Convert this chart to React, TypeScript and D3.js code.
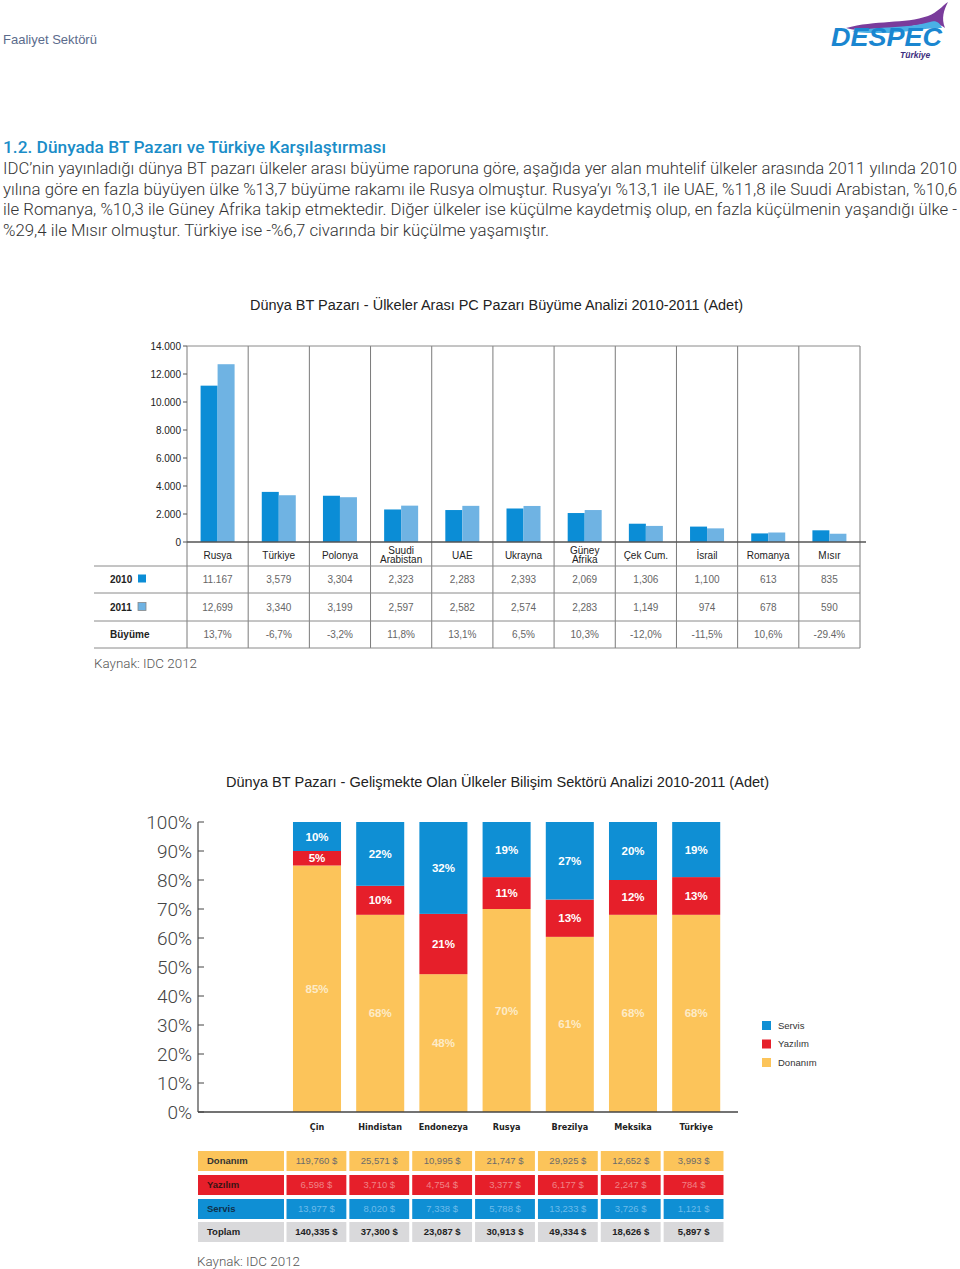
import React from "react";
import * as d3 from "d3";

// ---------- Chart 1 data ----------
const countries1 = ["Rusya", "Türkiye", "Polonya", "Suudi Arabistan", "UAE", "Ukrayna", "Güney Afrika", "Çek Cum.", "İsrail", "Romanya", "Mısır"];
const values2010 = [11167, 3579, 3304, 2323, 2283, 2393, 2069, 1306, 1100, 613, 835];
const values2011 = [12699, 3340, 3199, 2597, 2582, 2574, 2283, 1149, 974, 678, 590];
const labels2010 = ["11.167", "3,579", "3,304", "2,323", "2,283", "2,393", "2,069", "1,306", "1,100", "613", "835"];
const labels2011 = ["12,699", "3,340", "3,199", "2,597", "2,582", "2,574", "2,283", "1,149", "974", "678", "590"];
const growthLabels = ["13,7%", "-6,7%", "-3,2%", "11,8%", "13,1%", "6,5%", "10,3%", "-12,0%", "-11,5%", "10,6%", "-29.4%"];
const yTicks1 = [0, 2000, 4000, 6000, 8000, 10000, 12000, 14000];

// ---------- Chart 2 data ----------
const countries2 = ["Çin", "Hindistan", "Endonezya", "Rusya", "Brezilya", "Meksika", "Türkiye"];
const donanimPct = [85, 68, 48, 70, 61, 68, 68];
const yazilimPct = [5, 10, 21, 11, 13, 12, 13];
const servisPct = [10, 22, 32, 19, 27, 20, 19];
const donanimUsd = [119760, 25571, 10995, 21747, 29925, 12652, 3993];
const yazilimUsd = [6598, 3710, 4754, 3377, 6177, 2247, 784];
const servisUsd = [13977, 8020, 7338, 5788, 13233, 3726, 1121];
const toplamUsd = [140335, 37300, 23087, 30913, 49334, 18626, 5897];
const yTicks2 = [0, 10, 20, 30, 40, 50, 60, 70, 80, 90, 100];

const C2010 = "#0b8dd6";
const C2011 = "#6fb3e3";
const CYEL = "#fcc45a";
const CRED = "#e61f2a";
const CBLUE = "#0f8fd4";
const FONT = "'Liberation Sans', Arial, Helvetica, sans-serif";
const LIGHT = "Roboto, 'Liberation Sans', Arial, sans-serif";

const bodyLines = [
  "IDC’nin yayınladığı dünya BT pazarı ülkeler arası büyüme raporuna göre, aşağıda yer alan muhtelif ülkeler arasında 2011 yılında 2010",
  "yılına göre en fazla büyüyen ülke %13,7 büyüme rakamı ile Rusya olmuştur. Rusya’yı %13,1 ile UAE, %11,8 ile Suudi Arabistan, %10,6",
  "ile Romanya, %10,3 ile Güney Afrika takip etmektedir. Diğer ülkeler ise küçülme kaydetmiş olup, en fazla küçülmenin yaşandığı ülke -",
  "%29,4 ile Mısır olmuştur. Türkiye ise -%6,7 civarında bir küçülme yaşamıştır.",
];
const bodyWidths = [954, 954, 954, 546];

export default function App() {
  // Chart 1 scales
  const x1 = d3.scaleBand<string>().domain(countries1).range([187, 860]);
  const bw1 = x1.bandwidth();
  const inner = d3.scaleBand<string>().domain(["2010", "2011"]).range([0, 34]);
  const y1 = d3.scaleLinear().domain([0, 14000]).range([542, 346]);
  const trLocale = d3.formatLocale({ decimal: ",", thousands: ".", grouping: [3], currency: ["", ""] });
  const fmtTick = trLocale.format(",");
  const splitLabel = (c: string) =>
    c === "Suudi Arabistan" ? ["Suudi", "Arabistan"] : c === "Güney Afrika" ? ["Güney", "Afrika"] : [c];
  const boundaries1 = [...countries1.map((c) => x1(c)!), 860];
  const tableRows1 = [
    { label: "2010", y: 579, vals: labels2010, sq: C2010 },
    { label: "2011", y: 607, vals: labels2011, sq: C2011 },
    { label: "Büyüme", y: 634, vals: growthLabels, sq: null as string | null },
  ];

  // Chart 2 scales
  const x2 = d3.scaleBand<string>().domain(countries2).range([285.4, 727.8]).paddingInner(0.24).paddingOuter(0.12);
  const y2 = d3.scaleLinear().domain([0, 1]).range([1112, 822]);
  const y2t = d3.scaleLinear().domain([0, 100]).range([1112, 822]);
  const rows2 = countries2.map((c, i) => ({ c, Donanım: donanimPct[i], Yazılım: yazilimPct[i], Servis: servisPct[i] }));
  const keys = ["Donanım", "Yazılım", "Servis"];
  const colors2: Record<string, string> = { Donanım: CYEL, Yazılım: CRED, Servis: CBLUE };
  const labelColors2: Record<string, string> = { Donanım: "#fdebc8", Yazılım: "#ffffff", Servis: "#ffffff" };
  const stack = d3.stack<any>().keys(keys).offset(d3.stackOffsetExpand);
  const series = stack(rows2);

  const xCells = d3.scaleBand<string>().domain(countries2).range([285, 725]).paddingInner(0.048).paddingOuter(0.024);
  const fmtUsd = (v: number) => d3.format(",")(v) + " $";
  const table2 = [
    { label: "Donanım", vals: donanimUsd, bg: CYEL, lc: "#333", vc: "#6b6b6b", bold: false, y: 1151 },
    { label: "Yazılım", vals: yazilimUsd, bg: CRED, lc: "#3a1414", vc: "#f08387", bold: false, y: 1175 },
    { label: "Servis", vals: servisUsd, bg: CBLUE, lc: "#10304a", vc: "#6ebbea", bold: false, y: 1199 },
    { label: "Toplam", vals: toplamUsd, bg: "#d9d9db", lc: "#222", vc: "#222", bold: true, y: 1222 },
  ];

  return (
    <div style={{ position: "absolute", left: 0, top: 0 }}>
      <svg width={960} height={1269} style={{ display: "block", background: "#fff" }} fontFamily={FONT}>
        {/* Header */}
        <text x={3} y={44} fontSize={13} fill="#5b6b8c">Faaliyet Sektörü</text>
        <g>
          <path d="M846,28 C875,20 905,24 928,16 C938,12 942,6 948,2 C944,10 941,18 945,28 C936,20 920,25 898,28 C878,31 860,32 846,28 Z" fill="#7a3c9c" />
          <path d="M852,31 C880,26 905,29 930,22 C936,20 940,23 942,28 C930,27 905,33 880,33 C868,33 858,33 852,31 Z" fill="#4ab0e6" />
          <text x={831} y={46} fontSize={25} fontWeight="bold" fontStyle="italic" fill="#1a86d0" textLength={111} lengthAdjust="spacingAndGlyphs">DESPEC</text>
          <text x={900} y={57.5} fontSize={8.5} fontWeight="bold" fontStyle="italic" fill="#3b2e7e">Türkiye</text>
        </g>

        {/* Section heading & text */}
        <text x={3} y={153} fontSize={17} fontWeight={500} fontFamily={LIGHT} fill="#1b8dc8" textLength={383} lengthAdjust="spacingAndGlyphs">1.2. Dünyada BT Pazarı ve Türkiye Karşılaştırması</text>
        {bodyLines.map((l, i) => (
          <text key={i} x={3} y={174 + i * 20.7} fontSize={16} fontWeight={300} fontFamily={LIGHT} fill="#333" textLength={bodyWidths[i]} lengthAdjust="spacingAndGlyphs">{l}</text>
        ))}

        {/* Chart 1 */}
        <text x={250} y={310} fontSize={14} fill="#222" textLength={493} lengthAdjust="spacingAndGlyphs">Dünya BT Pazarı - Ülkeler Arası PC Pazarı Büyüme Analizi 2010-2011 (Adet)</text>
        {boundaries1.map((bx, i) => (
          <line key={i} x1={bx} x2={bx} y1={346} y2={648} stroke="#7a7a7a" strokeWidth={1} />
        ))}
        <line x1={187} x2={860} y1={346} y2={346} stroke="#8a8a8a" strokeWidth={1} />
        {countries1.map((c, i) => {
          const bx = x1(c)! + (bw1 - 34) / 2;
          return (
            <g key={c}>
              <rect x={bx + inner("2010")!} y={y1(values2010[i])} width={inner.bandwidth()} height={542 - y1(values2010[i])} fill={C2010} />
              <rect x={bx + inner("2011")!} y={y1(values2011[i])} width={inner.bandwidth()} height={542 - y1(values2011[i])} fill={C2011} />
            </g>
          );
        })}
        <line x1={187} x2={866} y1={542} y2={542} stroke="#555" strokeWidth={1.5} />
        {yTicks1.map((t) => (
          <g key={t}>
            <line x1={183} x2={187} y1={y1(t)} y2={y1(t)} stroke="#555" />
            <text x={181} y={y1(t)} dy="0.35em" fontSize={10} textAnchor="end" fill="#222">{fmtTick(t)}</text>
          </g>
        ))}
        {countries1.map((c) => {
          const lines = splitLabel(c);
          const cx = x1(c)! + bw1 / 2;
          return (
            <text key={c} x={cx} fontSize={10} textAnchor="middle" fill="#222">
              {lines.map((ln, j) => (
                <tspan key={j} x={cx} y={lines.length === 1 ? 558.5 : 553.5 + j * 9.3}>{ln}</tspan>
              ))}
            </text>
          );
        })}
        {[566, 593, 621, 648].map((ly) => (
          <line key={ly} x1={94} x2={860} y1={ly} y2={ly} stroke="#8a8a8a" strokeWidth={1} />
        ))}
        {tableRows1.map((r) => (
          <g key={r.label}>
            <text x={110} y={r.y} dy="0.35em" fontSize={10} fontWeight="bold" fill="#222">{r.label}</text>
            {r.sq && <rect x={138} y={r.y - 4.5} width={8} height={8} fill={r.sq} stroke={r.label === "2011" ? "#888" : "none"} strokeWidth={0.8} />}
            {r.vals.map((v, i) => (
              <text key={i} x={x1(countries1[i])! + bw1 / 2} y={r.y} dy="0.35em" fontSize={10} textAnchor="middle" fill="#666">{v}</text>
            ))}
          </g>
        ))}
        <text x={94} y={668} fontSize={13.5} fontWeight={300} fontFamily={LIGHT} fill="#555" textLength={103} lengthAdjust="spacingAndGlyphs">Kaynak: IDC 2012</text>

        {/* Chart 2 */}
        <text x={226} y={787} fontSize={14} fill="#222" textLength={543} lengthAdjust="spacingAndGlyphs">Dünya BT Pazarı - Gelişmekte Olan Ülkeler Bilişim Sektörü Analizi 2010-2011 (Adet)</text>
        {series.map((s) => (
          <g key={s.key}>
            {s.map((d, i) => (
              <rect key={i} x={x2(countries2[i])} y={y2(d[1])} width={x2.bandwidth()} height={y2(d[0]) - y2(d[1])} fill={colors2[s.key]} />
            ))}
          </g>
        ))}
        {series.map((s) => (
          <g key={s.key + "l"}>
            {s.map((d, i) => (
              <text key={i} x={x2(countries2[i])! + x2.bandwidth() / 2} y={(y2(d[0]) + y2(d[1])) / 2} dy="0.35em" fontSize={11.5} fontWeight="bold" textAnchor="middle" fill={labelColors2[s.key]}>
                {(s.key === "Donanım" ? donanimPct : s.key === "Yazılım" ? yazilimPct : servisPct)[i]}%
              </text>
            ))}
          </g>
        ))}
        <line x1={198} x2={198} y1={822} y2={1112} stroke="#444" strokeWidth={1.2} />
        <line x1={198} x2={738} y1={1112} y2={1112} stroke="#444" strokeWidth={1.5} />
        {yTicks2.map((t) => (
          <g key={t}>
            <line x1={198} x2={204} y1={y2t(t)} y2={y2t(t)} stroke="#444" strokeWidth={1} />
            <text x={192} y={y2t(t)} dy="0.36em" fontSize={19} fontWeight={300} fontFamily={LIGHT} textAnchor="end" fill="#444">{t}%</text>
          </g>
        ))}
        {countries2.map((c) => (
          <text key={c} x={x2(c)! + x2.bandwidth() / 2} y={1130} fontSize={9} fontWeight="bold" textAnchor="middle" fill="#222" fontFamily="'DejaVu Sans Condensed', 'DejaVu Sans', sans-serif" style={{ fontStretch: "condensed" }}>{c}</text>
        ))}
        {["Servis", "Yazılım", "Donanım"].map((k, i) => (
          <g key={k}>
            <rect x={762} y={1021 + i * 18.5} width={9} height={9} fill={colors2[k]} />
            <text x={778} y={1025.5 + i * 18.5} dy="0.35em" fontSize={9.5} fill="#333">{k}</text>
          </g>
        ))}
        {table2.map((r) => (
          <g key={r.label}>
            <rect x={198} y={r.y} width={86} height={20} fill={r.bg} />
            <text x={207} y={r.y + 10} dy="0.35em" fontSize={9.5} fontWeight="bold" fill={r.lc}>{r.label}</text>
            {r.vals.map((v, i) => (
              <g key={i}>
                <rect x={xCells(countries2[i])} y={r.y} width={xCells.bandwidth()} height={20} fill={r.bg} />
                <text x={xCells(countries2[i])! + xCells.bandwidth() / 2} y={r.y + 10} dy="0.35em" fontSize={9.5} fontWeight={r.bold ? "bold" : "normal"} textAnchor="middle" fill={r.vc}>{fmtUsd(v)}</text>
              </g>
            ))}
          </g>
        ))}
        <text x={197} y={1266} fontSize={13.5} fontWeight={300} fontFamily={LIGHT} fill="#555" textLength={103} lengthAdjust="spacingAndGlyphs">Kaynak: IDC 2012</text>
      </svg>
    </div>
  );
}
